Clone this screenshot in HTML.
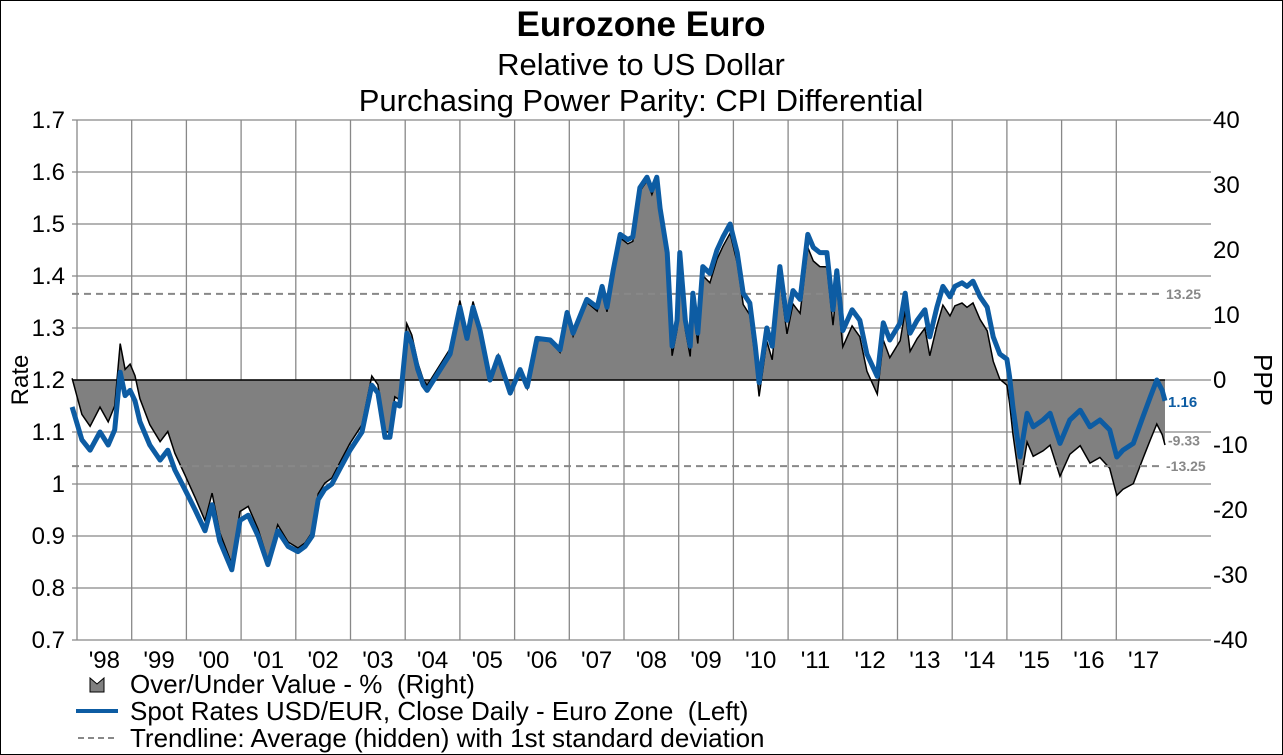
<!DOCTYPE html>
<html><head><meta charset="utf-8"><style>
body{margin:0;background:#fff;}
svg{display:block;font-family:"Liberation Sans",Arial,sans-serif;}
</style></head><body>
<svg id="chart" width="1283" height="755" viewBox="0 0 1283 755">
<rect x="0.5" y="0.5" width="1282" height="754" fill="#fff" stroke="#000"/>
<text x="641" y="36" text-anchor="middle" font-size="35" font-weight="bold">Eurozone Euro</text>
<text x="641" y="75" text-anchor="middle" font-size="31">Relative to US Dollar</text>
<text x="641" y="111" text-anchor="middle" font-size="31">Purchasing Power Parity: CPI Differential</text>
<g id="grid"></g>
<g id="area"></g>
<g id="trend"></g>
<g id="line"></g>
<g id="axes"></g>
<text transform="translate(28,380) rotate(-90)" text-anchor="middle" font-size="24">Rate</text>
<text transform="translate(1254,380) rotate(90)" text-anchor="middle" font-size="26">PPP</text>
<g>
<path d="M90,678 L90,692 L104,692 L104,678 L97,684 Z" fill="#808080" stroke="#000"/>
<text x="130" y="693" font-size="26">Over/Under Value - %&#160; (Right)</text>
<line x1="76" y1="711" x2="118" y2="711" stroke="#0d5ca3" stroke-width="4"/>
<text x="130" y="720" font-size="26">Spot Rates USD/EUR, Close Daily - Euro Zone&#160; (Left)</text>
<line x1="78" y1="738" x2="118" y2="738" stroke="#888" stroke-width="2" stroke-dasharray="6,4"/>
<text x="130" y="747" font-size="26">Trendline: Average (hidden) with 1st standard deviation</text>
</g>
</svg>
<script>
const dates=[1997.91,1998.09,1998.24,1998.42,1998.57,1998.69,1998.79,1998.88,1998.97,1999.06,1999.15,1999.33,1999.52,1999.66,1999.79,1999.97,2000.16,2000.34,2000.47,2000.61,2000.83,2000.98,2001.13,2001.31,2001.49,2001.67,2001.86,2002.04,2002.17,2002.30,2002.41,2002.53,2002.66,2002.81,2002.99,2003.21,2003.39,2003.50,2003.63,2003.72,2003.81,2003.90,2004.03,2004.12,2004.23,2004.33,2004.40,2004.82,2005.00,2005.13,2005.24,2005.37,2005.55,2005.70,2005.92,2006.10,2006.23,2006.41,2006.65,2006.83,2006.96,2007.07,2007.32,2007.51,2007.60,2007.69,2007.80,2007.93,2008.07,2008.16,2008.29,2008.42,2008.51,2008.60,2008.66,2008.79,2008.88,2008.97,2009.02,2009.12,2009.21,2009.26,2009.35,2009.44,2009.57,2009.70,2009.81,2009.94,2010.07,2010.18,2010.30,2010.40,2010.47,2010.61,2010.71,2010.85,2010.98,2011.09,2011.22,2011.36,2011.46,2011.58,2011.71,2011.82,2011.89,2012.00,2012.17,2012.31,2012.44,2012.63,2012.74,2012.86,2013.05,2013.14,2013.23,2013.36,2013.50,2013.59,2013.72,2013.83,2013.96,2014.05,2014.18,2014.27,2014.38,2014.51,2014.64,2014.75,2014.87,2015.00,2015.05,2015.11,2015.24,2015.37,2015.48,2015.66,2015.79,2015.97,2016.15,2016.34,2016.52,2016.70,2016.88,2017.01,2017.12,2017.31,2017.49,2017.62,2017.74,2017.84,2017.89];
const spot=[1.148,1.085,1.065,1.10,1.075,1.104,1.215,1.17,1.18,1.16,1.12,1.075,1.046,1.065,1.027,0.99,0.95,0.91,0.96,0.89,0.835,0.93,0.94,0.90,0.845,0.91,0.88,0.87,0.88,0.90,0.97,0.99,1.00,1.03,1.065,1.10,1.19,1.175,1.09,1.09,1.155,1.15,1.29,1.27,1.22,1.19,1.18,1.25,1.34,1.28,1.34,1.295,1.20,1.245,1.175,1.22,1.187,1.28,1.277,1.258,1.33,1.29,1.355,1.34,1.38,1.34,1.41,1.48,1.47,1.475,1.57,1.59,1.565,1.59,1.53,1.445,1.265,1.315,1.445,1.315,1.265,1.367,1.29,1.418,1.405,1.45,1.475,1.50,1.445,1.367,1.348,1.265,1.195,1.30,1.265,1.418,1.315,1.372,1.355,1.48,1.455,1.445,1.445,1.335,1.41,1.295,1.335,1.315,1.25,1.207,1.31,1.277,1.31,1.367,1.29,1.315,1.335,1.283,1.34,1.38,1.36,1.38,1.387,1.38,1.39,1.36,1.34,1.283,1.25,1.24,1.206,1.148,1.052,1.136,1.11,1.123,1.136,1.078,1.123,1.142,1.11,1.123,1.104,1.052,1.065,1.078,1.13,1.167,1.20,1.18,1.16];
const pppYears=[1998,1999,2000,2001,2002,2003,2004,2005,2006,2007,2008,2009,2010,2011,2012,2013,2014,2015,2016,2017,2018];
const pppRate=[1.145,1.152,1.159,1.166,1.173,1.18,1.187,1.194,1.201,1.208,1.215,1.22,1.224,1.228,1.232,1.235,1.238,1.25,1.266,1.279,1.29];
const leftTicks=[0.7,0.8,0.9,1,1.1,1.2,1.3,1.4,1.5,1.6,1.7];
const rightTicks=[-40,-30,-20,-10,0,10,20,30,40];
const yearLabels=["'98","'99","'00","'01","'02","'03","'04","'05","'06","'07","'08","'09","'10","'11","'12","'13","'14","'15","'16","'17"];
const trendLevels=[13.25,-13.25];
const lastRate=1.16, lastPct=-9.33;

const NS="http://www.w3.org/2000/svg";
const X=y=>77+(y-1998)*54.7;
const YL=v=>380-(v-1.2)*520;
const YR=v=>380-v*6.5;
function mk(tag,attrs,parent,txt){const e=document.createElementNS(NS,tag);for(const k in attrs)e.setAttribute(k,attrs[k]);if(txt!==undefined)e.textContent=txt;parent.appendChild(e);return e;}
function ppp(t){if(t<=pppYears[0])return pppRate[0];for(let i=1;i<pppYears.length;i++){if(t<=pppYears[i]){const f=(t-pppYears[i-1]);return pppRate[i-1]+f*(pppRate[i]-pppRate[i-1]);}}return pppRate[pppRate.length-1];}
const grid=document.getElementById('grid'),axes=document.getElementById('axes');
leftTicks.forEach(v=>{
 const l=mk('line',{x1:72,x2:1211,y1:YL(v),y2:YL(v),stroke:'#888','stroke-width':1.3},grid);
 
 
 const t=mk('text',{x:65,y:YL(v)+8,'text-anchor':'end','font-size':24},axes,String(v));
 
 
});
rightTicks.forEach(v=>{
 const t=mk('text',{x:1213,y:YR(v)+8,'text-anchor':'start','font-size':24},axes,String(v));
 
 
});
yearLabels.forEach((s,i)=>{
 const l=mk('line',{x1:X(1998+i),x2:X(1998+i),y1:120,y2:640,stroke:'#888','stroke-width':1.3},grid);
 
 
 const t=mk('text',{x:X(1998.5+i),y:668,'text-anchor':'middle','font-size':24},axes,s);
 
 
});
const pcts=spot.map((v,i)=>(v/ppp(dates[i])-1)*100);
let d='M'+X(dates[0])+','+YR(0);
pcts.forEach((p,i)=>{d+=' L'+X(dates[i]).toFixed(1)+','+YR(p).toFixed(1);});
d+=' L'+X(dates[dates.length-1])+','+YR(0)+' Z';
const area=document.getElementById('area');
const a=mk('path',{d:d,fill:'#808080',stroke:'none'},area);


const ae=mk('path',{d:d.replace(/^M[^L]*L/,'M').replace(/ L[^L]*Z$/,''),fill:'none',stroke:'#000','stroke-width':1.5},area);


const z=mk('line',{x1:X(dates[0]),x2:X(dates[dates.length-1]),y1:YR(0),y2:YR(0),stroke:'#000','stroke-width':1.5},area);


const trend=document.getElementById('trend');
trendLevels.forEach(v=>{
 const l=mk('line',{x1:72,x2:1163,y1:YR(v),y2:YR(v),stroke:'#888','stroke-width':2,'stroke-dasharray':'7,5'},trend);
 
 
 const t=mk('text',{x:1166,y:YR(v)+5,'font-size':14,'font-weight':'bold',fill:'#888'},trend,v.toFixed(2));
 
 
});
const ld=spot.map((v,i)=>(i?'L':'M')+X(dates[i]).toFixed(1)+','+YL(v).toFixed(1)).join(' ');
const lineG=document.getElementById('line');
const p=mk('path',{d:ld,fill:'none',stroke:'#0d5ca3','stroke-width':5,'stroke-linejoin':'round'},lineG);


const t1=mk('text',{x:1168,y:YL(lastRate)+6,'font-size':15,'font-weight':'bold',fill:'#0d5ca3'},lineG,lastRate.toFixed(2));


const t2=mk('text',{x:1168,y:YR(lastPct)+5,'font-size':14,'font-weight':'bold',fill:'#888'},lineG,lastPct.toFixed(2));


</script>
</body></html>
